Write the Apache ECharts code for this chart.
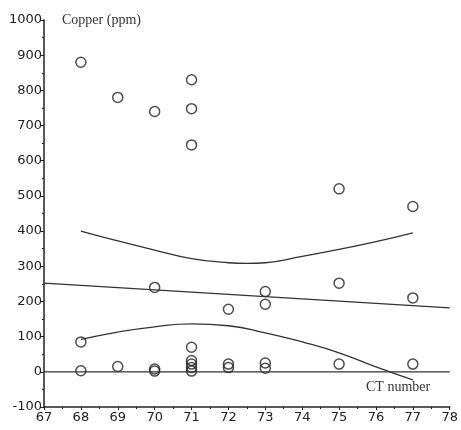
<!DOCTYPE html>
<html>
<head>
<meta charset="utf-8">
<script src="https://cdn.jsdelivr.net/npm/echarts@6/dist/echarts.min.js"></script>
<style>
  html, body { margin: 0; padding: 0; background: #fff; }
  #chart { width: 461px; height: 430px; }
</style>
</head>
<body>
<div id="chart"></div>
<script>
// CT number / copper (ppm) observations
const ctValues = [68, 68, 68, 69, 69, 70, 70, 70, 70, 71, 71, 71, 71, 71, 71, 71, 71, 72, 72, 72, 73, 73, 73, 73, 75, 75, 75, 77, 77, 77]
const copperValues = [880, 85, 3, 780, 15, 2, 740, 240, 8, 830, 748, 645, 70, 32, 22, 12, 2, 178, 22, 12, 228, 192, 25, 10, 520, 252, 22, 470, 210, 22]

// regression line and confidence bands
const fitX = [67, 78]
const fitY = [252, 182]
const upperX = [68, 69, 70, 71, 72, 72.5, 73, 74, 75, 76, 77]
const upperY = [400, 372, 346, 322, 310, 308, 310, 328, 348, 370, 395]
const lowerX = [68, 69, 70, 71, 72, 73, 74, 75, 76, 77]
const lowerY = [92, 113, 128, 136, 131, 111, 85, 54, 14, -23]

const xTicks = [67, 68, 69, 70, 71, 72, 73, 74, 75, 76, 77, 78]
const yTicks = [-100, 0, 100, 200, 300, 400, 500, 600, 700, 800, 900, 1000]

const chart = echarts.init(document.getElementById('chart'))

function pairs(xs, ys) {
  return xs.map((x, i) => [x, ys[i]])
}

const lineStyle = { color: '#333', width: 1.3 }
const labelFont = '"DejaVu Sans", Verdana, sans-serif'

chart.setOption({
  animation: false,
  grid: { left: 44, right: 6, top: 20, bottom: 23 },
  xAxis: {
    type: 'value',
    min: xTicks[0],
    max: xTicks[xTicks.length - 1],
    interval: 1,
    axisLine: { onZero: false, lineStyle: { color: '#222', width: 1.5 } },
    axisTick: { show: true, length: 3, lineStyle: { color: '#222' } },
    minorTick: { show: true, splitNumber: 2, length: 2, lineStyle: { color: '#222' } },
    splitLine: { show: false },
    axisLabel: { color: '#222', fontSize: 13, fontFamily: labelFont, margin: 4, formatter: v => String(v) }
  },
  yAxis: {
    type: 'value',
    min: yTicks[0],
    max: yTicks[yTicks.length - 1],
    interval: 100,
    axisLine: { onZero: false, lineStyle: { color: '#222', width: 1.5 } },
    axisTick: { show: true, length: 4, lineStyle: { color: '#222' } },
    minorTick: { show: true, splitNumber: 2, length: 2, lineStyle: { color: '#222' } },
    splitLine: { show: false },
    axisLabel: { color: '#222', fontSize: 13, fontFamily: labelFont, margin: 2, formatter: v => String(v) }
  },
  graphic: [
    {
      type: 'text', left: 62, top: 13,
      style: { text: 'Copper (ppm)', font: '14px "Liberation Serif"', fill: '#333' }
    },
    {
      type: 'text', left: 366, top: 380,
      style: { text: 'CT number', font: '14px "Liberation Serif"', fill: '#333' }
    }
  ],
  series: [
    {
      type: 'line',
      data: [[67, 0], [78, 0]],
      symbol: 'none',
      lineStyle: lineStyle
    },
    {
      type: 'line',
      data: pairs(fitX, fitY),
      symbol: 'none',
      lineStyle: lineStyle
    },
    {
      type: 'line',
      data: pairs(upperX, upperY),
      symbol: 'none',
      smooth: true,
      lineStyle: lineStyle
    },
    {
      type: 'line',
      data: pairs(lowerX, lowerY),
      symbol: 'none',
      smooth: true,
      lineStyle: lineStyle
    },
    {
      type: 'scatter',
      data: pairs(ctValues, copperValues),
      symbol: 'circle',
      symbolSize: 10,
      itemStyle: { color: 'transparent', borderColor: '#222', borderWidth: 1.5 }
    }
  ]
})
</script>
</body>
</html>
